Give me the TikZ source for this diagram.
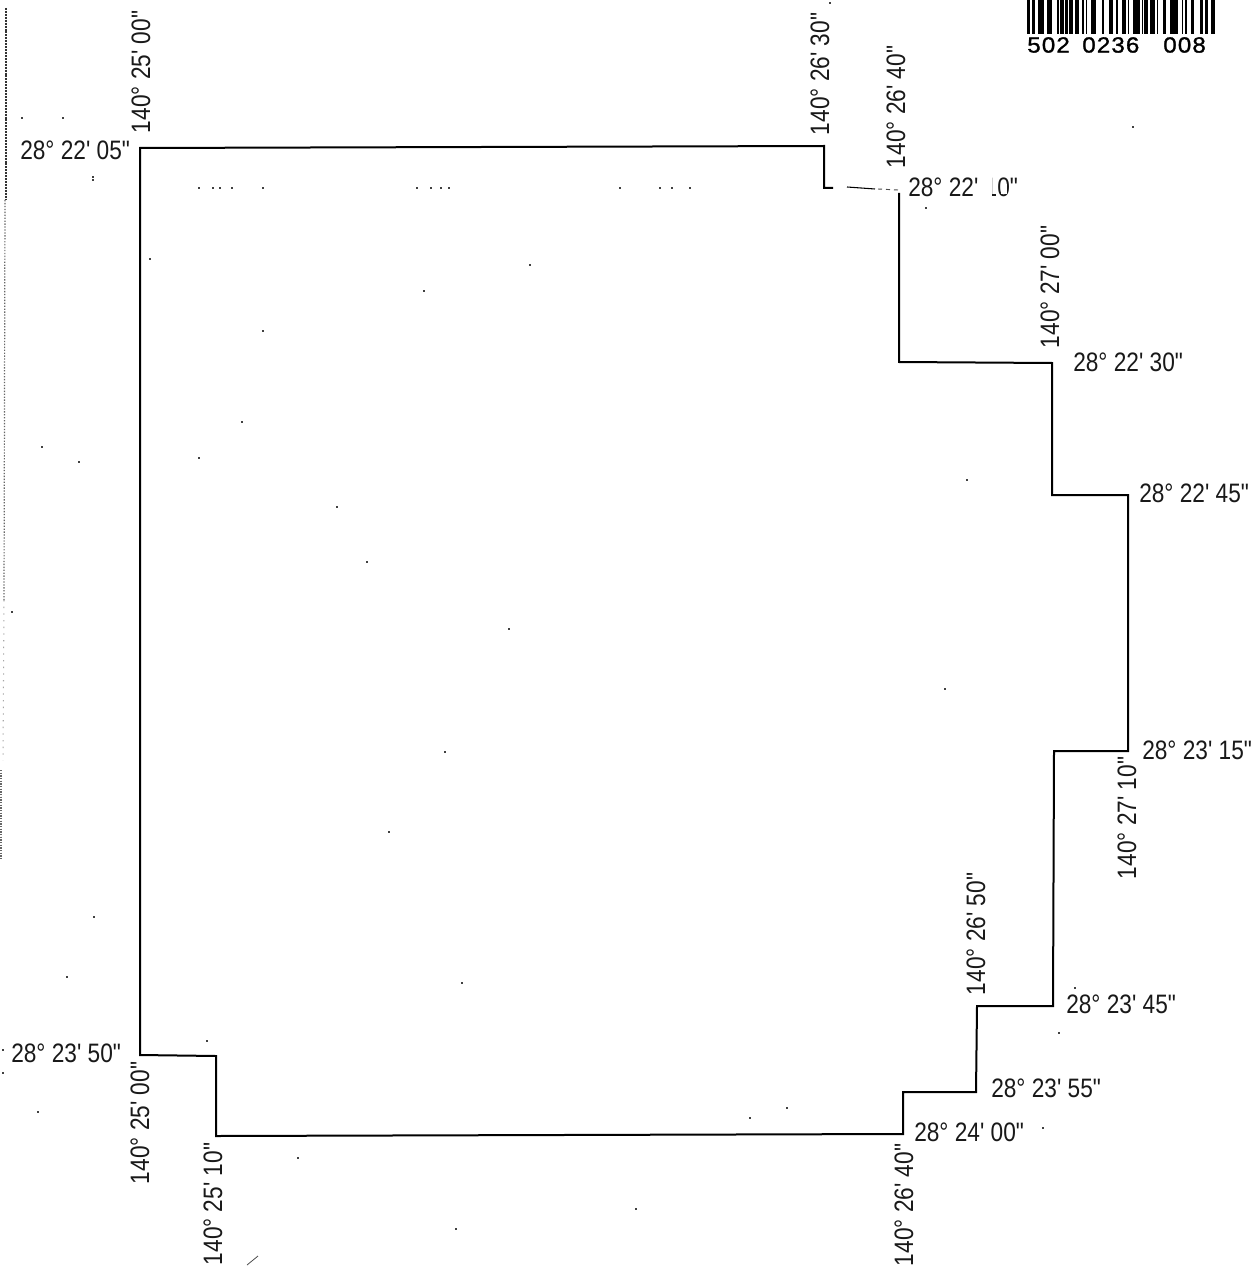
\documentclass[tikz,border=0pt]{standalone}
\usepackage{fontspec}
\newfontfamily\lab[FakeStretch=0.85]{Liberation Sans}
\newfontfamily\barfont[FakeStretch=1.1,LetterSpace=5,FakeBold=1.2]{Liberation Sans}
\begin{document}
\begin{tikzpicture}[x=0.75pt,y=-0.75pt,
  coordlab/.style={font=\lab\fontsize{20pt}{22pt}\selectfont,inner sep=0pt,anchor=west,text=black!90},
  vertlab/.style={font=\lab\fontsize{20pt}{22pt}\selectfont,inner sep=0pt,anchor=center,rotate=90,text=black!90},
  barnum/.style={font=\barfont\fontsize{16.5pt}{18pt}\selectfont,inner sep=0pt,anchor=west},
  boundary/.style={draw=black,line width=1.5pt,line join=miter},
  speck/.style={fill=black!75,draw=none}]
\useasboundingbox (0,0) rectangle (1254,1266);
\fill[white] (0,0) rectangle (1254,1266);
% boundary
\draw[boundary] (899,193) -- (899,362) -- (1052,363) -- (1052,495) -- (1128,495) -- (1128,751) -- (1054,751) -- (1053,1006) -- (977,1006) -- (976,1092) -- (903,1092) -- (903,1134) -- (216,1136) -- (216,1056) -- (140,1055) -- (140,148) -- (824,146) -- (824,188) -- (833,188);
\draw[black,line width=0.8pt] (847,187) -- (875,189);
\draw[black!70,line width=0.7pt,dash pattern=on 3pt off 3pt] (878,189) -- (898,190);
% labels, horizontal
\node[coordlab] (h1) at (20,150) {28° 22' 05"};
\node[coordlab] (h2) at (908,187) {28° 22' 10"};
\fill[white] (986,177) rectangle (992,196);
\fill[white] (1001,184) rectangle (1007,194);
\node[coordlab] (h3) at (1073,362) {28° 22' 30"};
\node[coordlab] (h4) at (1139,493) {28° 22' 45"};
\node[coordlab] (h5) at (1142,750) {28° 23' 15"};
\node[coordlab] (h6) at (1066,1004) {28° 23' 45"};
\node[coordlab] (h7) at (991,1088) {28° 23' 55"};
\node[coordlab] (h8) at (914,1132) {28° 24' 00"};
\node[coordlab] (h9) at (11,1053) {28° 23' 50"};
% labels, vertical
\node[vertlab] (v1) at (141,72) {140° 25' 00"};
\node[vertlab] (v2) at (820,74) {140° 26' 30"};
\node[vertlab] (v3) at (896,107) {140° 26' 40"};
\node[vertlab] (v4) at (1050,287) {140° 27' 00"};
\node[vertlab] (v5) at (1127,818) {140° 27' 10"};
\node[vertlab] (v6) at (976,934) {140° 26' 50"};
\node[vertlab] (v7) at (904,1205) {140° 26' 40"};
\node[vertlab] (v8) at (213,1204) {140° 25' 10"};
\node[vertlab] (v9) at (140,1123) {140° 25' 00"};
% barcode
\foreach \a/\b in {82/89,97/104,115/133,142/156,171/176,181/192,195/204,208/218,226/238,246/251,258/262,274/288,305/311,327/340,347/353,365/377,385/388,400/420,425/430,432/445,450/466,470/475,488/497,510/533,545/549,555/560,572/583,601/610,615/625,632/645}
  \fill[black] ({1000+\a/3},0) rectangle ({1000+\b/3},34);
\node[barnum] (b1) at (1027,45) {502};
\node[barnum] (b2) at (1082,45) {0236};
\node[barnum] (b3) at (1163,45) {008};
% scan noise
\foreach \x/\y in {63/118,93/177,93/180,199/188,213/188,220/188,232/188,263/188,417/188,431/188,441/188,449/188,620/188,660/188,672/188,690/188,150/259,424/291,530/265,263/331,242/422,199/458,79/462,42/447,337/507,367/562,509/629,12/612,445/752,389/832,94/917,67/977,462/983,207/1041,38/1112,3/1073,298/1158,750/1118,787/1108,636/1209,456/1229,1133/127,926/208,967/480,945/689,1075/988,1059/1033,1043/1128,830/3,22/118,3/1050}
  \fill[speck] (\x-1.2,\y-1) rectangle (\x+1.2,\y+1);
\draw[black!70,line width=0.6pt] (247,1265) -- (258,1256);
\draw[black!80,line width=0.9pt,dash pattern=on 1.5pt off 0.7pt] (6,8) -- (6,200);
\draw[black!60,line width=0.9pt,dash pattern=on 1pt off 1.2pt] (5,200) -- (4,600);
\draw[black!35,line width=0.8pt,dash pattern=on 1pt off 4pt] (4,600) -- (3,760);
\draw[black!60,line width=0.8pt,dash pattern=on 1pt off 1pt] (1,770) -- (1,860);
\end{tikzpicture}
\end{document}
